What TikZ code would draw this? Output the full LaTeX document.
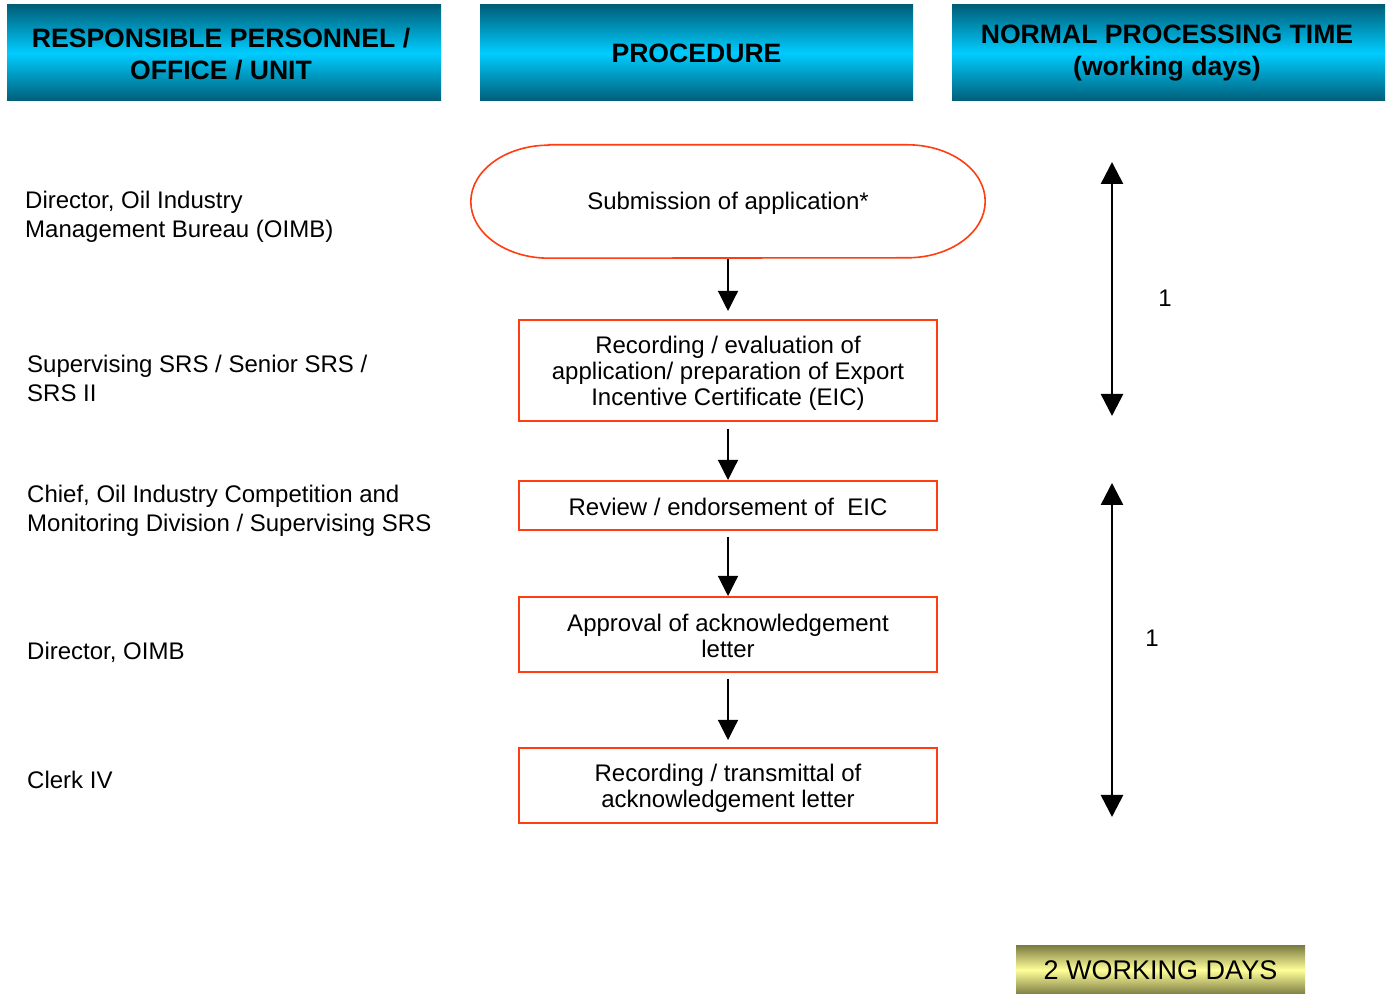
\documentclass[tikz,border=0pt]{standalone}
\usepackage{fontspec}
\setmainfont{Liberation Sans}
\usetikzlibrary{arrows.meta}
\definecolor{boxred}{HTML}{FF3D0F}
\definecolor{hdark}{HTML}{005E78}
\definecolor{hmid}{HTML}{00CCFF}
\definecolor{ydark}{HTML}{7F7F45}
\definecolor{ymid}{HTML}{FFFF99}
\begin{document}
\begin{tikzpicture}[x=1pt,y=1pt,
 hdr/.style={minimum height=96pt, inner sep=0pt, top color=hdark, bottom color=hdark, middle color=hmid, font=\fontsize{26.6}{32}\selectfont\bfseries, align=center},
 hdrtext/.style={font=\fontsize{26.6}{32}\selectfont\bfseries, align=center, inner sep=0pt},
 stepbox/.style={draw=boxred, line width=2pt, minimum width=418pt, inner sep=0pt},
 boxtext/.style={align=center, inner sep=0pt, font=\fontsize{24}{26}\selectfont},
 lbl/.style={anchor=west, align=left, inner sep=0pt, font=\fontsize{24}{29}\selectfont},
 flow/.style={-{Triangle[width=20pt,length=20pt]}, line width=1.2pt},
 span/.style={{Triangle[width=22pt,length=22pt]}-{Triangle[width=22pt,length=22pt]}, line width=2.6pt}
]
\useasboundingbox (0,0) rectangle (1389,995);
% headers
\node[hdr, minimum width=434pt] (h1) at (224,942) {};
\node[hdrtext] (h1t) at (221,941) {RESPONSIBLE PERSONNEL /\\OFFICE / UNIT};
\node[hdr, minimum width=433pt] (h2) at (696.5,942) {PROCEDURE};
\node[hdr, minimum width=433pt] (h3) at (1168.5,942) {};
\node[hdrtext] (h3t) at (1167,942) {NORMAL PROCESSING TIME\\(working days)};
% left labels
\node[lbl] (l1) at (25,778) {Director, Oil Industry\\Management Bureau (OIMB)};
\node[lbl] (l2) at (27,617) {Supervising SRS / Senior SRS /\\SRS II};
\node[lbl] (l3) at (27,484) {Chief, Oil Industry Competition and\\Monitoring Division / Supervising SRS};
\node[lbl] (l4) at (27,343) {Director, OIMB};
\node[lbl] (l5) at (27,215) {Clerk IV};
% procedure
\node[minimum width=514pt, minimum height=113pt, inner sep=0pt] (s) at (728,793.5) {};
\node[boxtext] (st) at (728,791.5) {Submission of application*};
\draw[boxred, line width=1.6pt] ([xshift=78pt]s.north west) -- ([xshift=-78pt]s.north east)
  arc[start angle=90, end angle=-90, x radius=78pt, y radius=56.5pt]
  -- ([xshift=78pt]s.south west)
  arc[start angle=270, end angle=90, x radius=78pt, y radius=56.5pt] -- cycle;
\node[stepbox, minimum height=101pt] (b2) at (728,624.5) {};
\node[boxtext] (b2t) at ([yshift=-2.5pt]b2.center) {Recording / evaluation of\\application/ preparation of Export\\Incentive Certificate (EIC)};
\node[stepbox, minimum height=49pt] (b3) at (728,489.5) {};
\node[boxtext] (b3t) at ([yshift=-1pt]b3.center) {Review / endorsement of\ \ EIC};
\node[stepbox, minimum height=75pt] (b4) at (728,360.5) {};
\node[boxtext] (b4t) at ([yshift=-1pt]b4.center) {Approval of acknowledgement\\letter};
\node[stepbox, minimum height=75pt] (b5) at (728,209.5) {};
\node[boxtext] (b5t) at ([yshift=-2.5pt]b5.center) {Recording / transmittal of\\acknowledgement letter};
\draw[flow] ([yshift=-1pt]s.south) -- ([yshift=8pt]b2.north);
\draw[flow] ([yshift=-7pt]b2.south) -- (b3.north);
\draw[flow] ([yshift=-6pt]b3.south) -- (b4.north);
\draw[flow] ([yshift=-6pt]b4.south) -- ([yshift=7pt]b5.north);
% times
\coordinate (t1a) at (1112,833);
\coordinate (t1b) at (1112,579);
\coordinate (t2a) at (1112,512);
\coordinate (t2b) at (1112,178);
\draw[span] (t1a) -- (t1b);
\draw[span] (t2a) -- (t2b);
\node[font=\fontsize{24}{26}\selectfont, inner sep=0pt] (n1) at (1165,697) {1};
\node[font=\fontsize{24}{26}\selectfont, inner sep=0pt] (n2) at (1152,357) {1};
% total
\node[minimum width=289pt, minimum height=48pt, inner sep=0pt, top color=ydark, bottom color=ydark, middle color=ymid, font=\fontsize{27}{30}\selectfont] (tot) at (1160.5,25) {2 WORKING DAYS};
\end{tikzpicture}
\end{document}
